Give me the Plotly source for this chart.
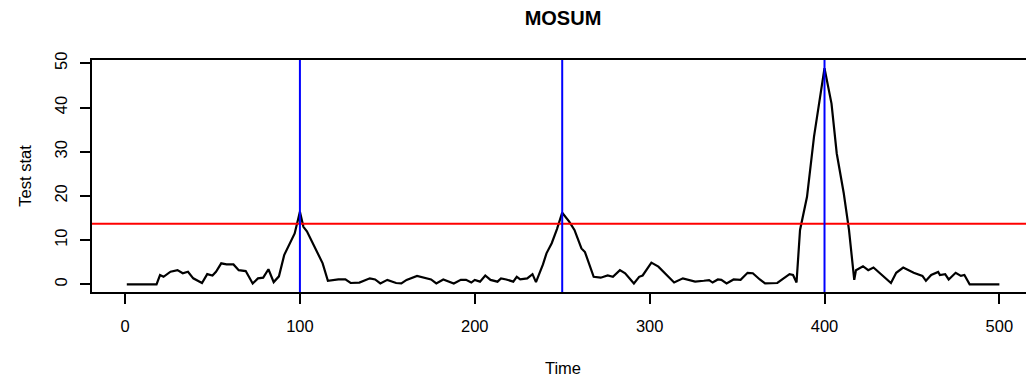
import plotly.graph_objects as go

# MOSUM test statistic
time = [1, 18, 20, 22, 26, 30, 33, 36, 39, 44, 47, 50, 52, 55, 58, 62, 65, 69, 73, 76,
        79, 82, 85, 88, 91, 95, 97, 100, 102, 104, 109, 113, 116, 119, 122, 126, 129, 134,
        140, 143, 146, 150, 155, 158, 161, 167, 172, 175, 178, 182, 188, 192, 195, 198,
        200, 203, 206, 209, 213, 215, 218, 222, 224, 226, 230, 233, 235, 237, 239, 241,
        244, 247, 250, 254, 257, 261, 263, 268, 272, 276, 279, 283, 286, 291, 294, 296,
        301, 305, 310, 314, 319, 322, 326, 331, 334, 336, 339, 341, 344, 348, 352, 356,
        359, 363, 366, 373, 376, 380, 382, 384, 386, 390, 394, 397, 400, 404, 407, 411,
        414, 417, 418, 422, 425, 428, 433, 438, 441, 445, 451, 456, 458, 461, 465, 466,
        469, 471, 475, 478, 480, 483, 500]
stat = [0, 0, 2.1, 1.7, 2.85, 3.2, 2.5, 2.85, 1.35, 0.3, 2.3, 2.0, 2.85, 4.75, 4.5, 4.5,
        3.2, 3.0, 0.2, 1.35, 1.5, 3.4, 0.5, 1.8, 6.6, 10.0, 11.5, 16.4, 13.0, 12.0, 7.8,
        4.75, 0.8, 1.0, 1.1, 1.1, 0.3, 0.4, 1.35, 1.1, 0.2, 1.0, 0.3, 0.2, 1.0, 1.9, 1.35,
        1.1, 0.2, 1.1, 0.2, 1.0, 1.0, 0.4, 1.0, 0.6, 2.0, 1.0, 0.6, 1.35, 1.1, 0.6, 1.7,
        1.1, 1.35, 2.3, 0.5, 2.5, 4.5, 7.0, 9.3, 12.5, 16.2, 14.2, 12.3, 8.1, 7.3, 1.7,
        1.5, 2.0, 1.7, 3.2, 2.5, 0.2, 1.7, 2.0, 4.9, 4.0, 2.0, 0.4, 1.35, 1.0, 0.6, 0.8,
        0.95, 0.4, 1.1, 1.0, 0.2, 1.1, 1.0, 2.6, 2.5, 1.1, 0.2, 0.3, 1.1, 2.3, 2.1, 0.4,
        12.3, 19.8, 33.4, 41.7, 48.9, 40.9, 29.6, 20.6, 12.3, 1.0, 3.2, 4.1, 3.2, 3.8,
        2.1, 0.3, 2.6, 3.8, 2.6, 1.9, 0.8, 2.1, 2.8, 2.1, 2.3, 1.1, 2.6, 1.9, 2.1, 0, 0]
threshold = 13.7
change_points = [100, 250, 400]
x_ticks = [0, 100, 200, 300, 400, 500]
y_ticks = [0, 10, 20, 30, 40, 50]

FONT = "Liberation Sans, Arial, Helvetica, sans-serif"

# the page body adds an 8px offset; the figure is sized to fill the rest
W, H = 1026, 371

fig = go.Figure()
fig.add_trace(go.Scatter(x=time, y=stat, mode="lines",
                         line=dict(color="black", width=2.2), showlegend=False,
                         hoverinfo="skip"))
fig.add_hline(y=threshold, line=dict(color="#FF0000", width=2))
for cp in change_points:
    fig.add_vline(x=cp, line=dict(color="#0000FF", width=2))

axis_common = dict(showgrid=False, zeroline=False, showline=True, mirror=True,
                   linecolor="black", linewidth=2, ticks="outside", ticklen=10,
                   tickwidth=1.5, tickcolor="black", automargin=False,
                   tickfont=dict(family=FONT, size=16.5, color="black"))

fig.update_layout(
    width=W, height=H,
    margin=dict(l=84, r=0, t=52, b=87),
    paper_bgcolor="white", plot_bgcolor="white",
    font=dict(family=FONT, color="black"),
    title=dict(text="<b>MOSUM</b>", x=0.5, xref="paper", xanchor="center",
               y=1 - 10 / H, yref="container", yanchor="middle",
               font=dict(family=FONT, size=20, color="black")),
    xaxis=dict(range=[-18.9, 519.8], tickvals=x_ticks, ticklabelstandoff=8,
               title=dict(text="Time", standoff=29,
                          font=dict(family=FONT, size=16.5, color="black")),
               **axis_common),
    yaxis=dict(range=[-1.74, 50.75], tickvals=y_ticks, tickangle=-90,
               ticklabelstandoff=6,
               title=dict(text="Test stat", standoff=17,
                          font=dict(family=FONT, size=16.5, color="black")),
               **axis_common),
)

fig.write_html("out.html")
